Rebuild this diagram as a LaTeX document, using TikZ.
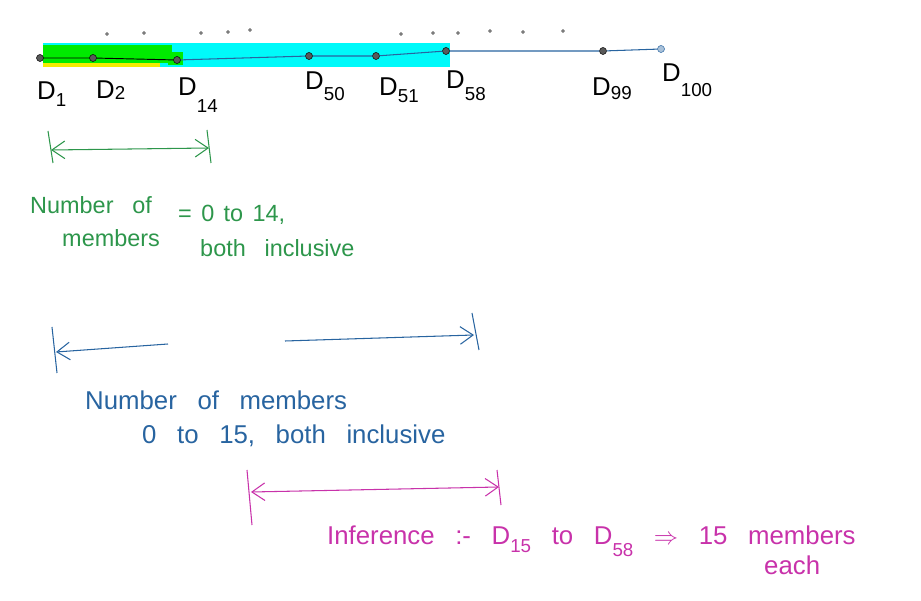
\documentclass[tikz,border=0pt]{standalone}
\usepackage{fontspec}
\setmainfont{Liberation Sans}
\usepackage{xcolor}
\usetikzlibrary{arrows.meta, positioning}

\definecolor{penGreen}{RGB}{45,150,75}
\definecolor{penBlue}{RGB}{40,100,160}
\definecolor{penPink}{RGB}{200,50,170}
\definecolor{hlCyan}{RGB}{0,250,250}
\definecolor{hlGreen}{RGB}{0,235,0}
\definecolor{hlYellow}{RGB}{245,235,0}

% label of a member, with a dropped index
\newcommand{\dlab}[2][0.5ex]{D\raisebox{-#1}{\fontsize{16}{16}\selectfont #2}}
\newcommand{\handfont}{\fontsize{20}{24}\selectfont\spaceskip=0.8em plus 0.1em\relax}
\newcommand{\bighand}{\fontsize{22}{26}\selectfont\spaceskip=0.8em plus 0.1em\relax}

\begin{document}
\begin{tikzpicture}[x=0.03cm, y=-0.03cm,
    every node/.style={font={\handfont}, inner sep=0pt, anchor=west},
    member/.style={circle, draw=black, fill=black!65, minimum size=6pt, inner sep=0pt, anchor=center},
    big/.style={font={\bighand}},
    span/.style={line width=0.9pt, {Straight Barb[length=11pt,width=15pt]}-{Straight Barb[length=11pt,width=15pt]}},
    tick/.style={line width=0.9pt}]
  \useasboundingbox (0,0) rectangle (921,601);

  % highlights
  \fill[hlCyan] (43,43) rectangle (450,67);
  \fill[hlYellow] (43,47) rectangle (160,67);
  \fill[hlGreen] (43,45) rectangle (172,63);
  \fill[hlGreen] (168,52) rectangle (183,65);

  % members on the line
  \node[member] (d1) at (40,58) {};
  \node[member] (d2) at (93,58) {};
  \node[member] (d14) at (177,60) {};
  \node[member] (d50) at (309,56) {};
  \node[member] (d51) at (376,56) {};
  \node[member] (d58) at (446,51) {};
  \node[member] (d99) at (603,51) {};
  \node[member, draw=penBlue, fill=penBlue!40] (d100) at (661,49) {};

  \draw[line width=0.8pt] (d1) -- (d2) -- (d14);
  \draw[line width=0.9pt, penBlue] (d14) -- (d50) -- (d51) -- (d58) -- (d99) -- (d100);

  \foreach \x/\y in {107/34, 144/33, 201/33, 228/32, 250/30, 401/34, 433/33, 458/33, 490/31, 523/32, 563/31}
    \draw[black!70, line width=0.5pt] (\x,\y) circle (1.4);

  \node[big] (l1) at (37,94) {\dlab{1}};
  \node[big] (l2) at (96,90) {\dlab[0.1ex]{2}};
  \node[big] (l14) at (178,95) {\dlab[1.3ex]{14}};
  \node[big] (l50) at (305,86) {\dlab[0.8ex]{50}};
  \node[big] (l51) at (379,90) {\dlab[0.5ex]{51}};
  \node[big] (l58) at (446,86) {\dlab[0.9ex]{58}};
  \node[big] (l99) at (592,89) {\dlab[0.3ex]{99}};
  \node[big] (l100) at (662,80) {\dlab[1.1ex]{100}};

  % first range
  \begin{scope}[penGreen]
    \coordinate (gL) at (51,150);
    \coordinate (gR) at (209,148);
    \draw[tick] (48,131) -- (53,163);
    \draw[tick] (207,130) -- (211,163);
    \draw[span] (gL) -- (gR);
    \node (g1) at (30,205) {Number of};
    \node (g2) at (62,238) {members};
    \node (g3) at (178,215) {\spaceskip=0.4em = 0 to 14,};
    \node (g4) at (200,248) {both inclusive};
  \end{scope}

  % second range
  \begin{scope}[penBlue]
    \coordinate (bL) at (56,352);
    \coordinate (bLt) at (168,344);
    \coordinate (bRt) at (285,341);
    \coordinate (bR) at (474,335);
    \draw[tick] (52,327) -- (57,373);
    \draw[tick] (472,313) -- (479,350);
    \draw[line width=0.9pt, -{Straight Barb[length=11pt,width=15pt]}] (bLt) -- (bL);
    \draw[line width=0.9pt, -{Straight Barb[length=11pt,width=15pt]}] (bRt) -- (bR);
    \node[big] (b1) at (85,400) {Number of members};
    \node[big] (b2) at (142,436) {0 to 15, both inclusive};
  \end{scope}

  % inference
  \begin{scope}[penPink]
    \coordinate (pL) at (251,492);
    \coordinate (pR) at (499,487);
    \draw[tick] (247,470) -- (252,525);
    \draw[tick] (497,470) -- (501,505);
    \draw[span] (pL) -- (pR);
    \node[big] (p1) at (327,541) {Inference :- \dlab[0.6ex]{15} to \dlab[0.9ex]{58} $\Rightarrow$ 15 members};
    \node[big] (p2) at (764,565) {each};
  \end{scope}
\end{tikzpicture}
\end{document}
